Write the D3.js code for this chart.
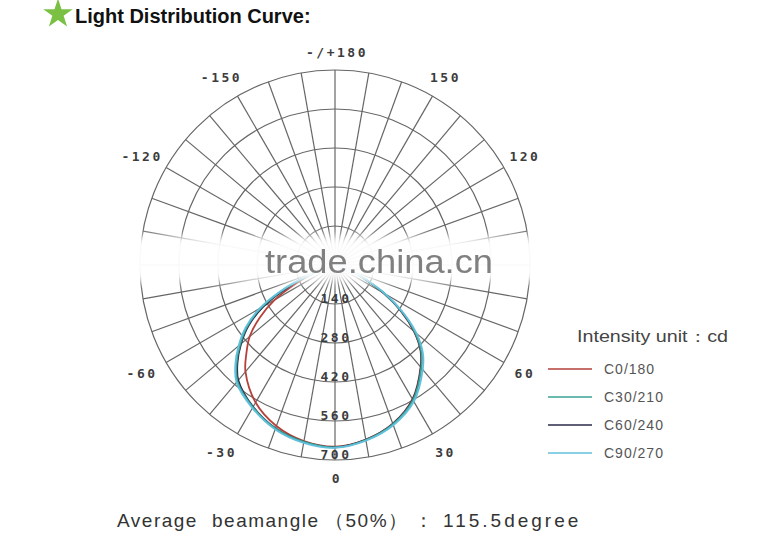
<!DOCTYPE html>
<meta charset="utf-8">
<html>
<head>
  <title>Light Distribution Curve</title>
  <script src="https://cdn.jsdelivr.net/npm/d3@7"></script>
  <style>
    body { margin: 0; background: #fff; }
    svg { display: block; }
    .grid { fill: none; stroke: #666; stroke-width: 1.2px; }
    .curve { fill: none; stroke-width: 1.8px; }
    .lab { font-family: "DejaVu Sans Mono", monospace; font-size: 13px; font-weight: bold;
           fill: #3c3c3c; letter-spacing: 2.5px; text-anchor: middle; }
  </style>
</head>
<body>
<svg id="svg" width="758" height="545"></svg>
<script>
  // gamma angle in degrees: 0 = straight down, negative = left half
  var gammas = [-90, -80, -70, -65, -60, -55, -50, -45, -40, -30, -20, -10, 0, 10, 20, 30, 40, 45, 50, 55, 60, 65, 70, 80, 90];
  // intensities (cd) per C-plane
  var c0   = [8, 25, 70, 150, 250, 330, 400, 450, 500, 570, 615, 642, 652, 636, 606, 556, 478, 434, 370, 290, 200, 115, 60, 20, 6];
  var c30  = [8, 28, 85, 190, 305, 385, 445, 500, 545, 590, 625, 645, 655, 638, 608, 560, 482, 438, 374, 294, 204, 118, 62, 20, 6];
  var c60  = [8, 27, 80, 180, 295, 378, 440, 495, 540, 588, 624, 645, 654, 637, 607, 558, 480, 436, 372, 292, 202, 116, 61, 20, 6];
  var c90  = [8, 30, 90, 200, 312, 392, 452, 506, 550, 593, 628, 648, 656, 640, 612, 566, 490, 446, 382, 300, 210, 122, 64, 20, 6];
  var seriesNames = ["C0/180", "C30/210", "C60/240", "C90/270"];
  var seriesColors = ["#b5413a", "#3aa395", "#2a2a4a", "#62c0dc"];
  var rings = [140, 280, 420, 560, 700];
  var angleTicks = [180, 150, 120, 60, 30, 0, -30, -60, -120, -150];
  var angleText = {"180": "-/+180"};

  var svg = d3.select("#svg");
  var cx = 335, cy = 265;

  var r = d3.scaleLinear().domain([0, 700]).range([0, 195]);
  // gamma -> lineRadial angle (0 = up, clockwise)
  function ang(g) { return Math.PI - g * Math.PI / 180; }
  function px(g, rad) { return [cx + rad * Math.sin(ang(g)), cy - rad * Math.cos(ang(g))]; }

  // title with star
  svg.append("path")
    .attr("d", d3.symbol(d3.symbolStar, 270)())
    .attr("transform", "translate(58,14)")
    .attr("fill", "#7ac143");
  svg.append("text")
    .attr("x", 75).attr("y", 23)
    .style("font-family", "'Liberation Sans', Arial, sans-serif")
    .style("font-weight", "bold").style("font-size", "20px")
    .attr("fill", "#111")
    .text("Light Distribution Curve:");

  var plot = svg.append("g");

  // rings
  plot.selectAll("circle.grid")
    .data(rings)
    .enter().append("circle")
    .attr("class", "grid")
    .attr("cx", cx).attr("cy", cy)
    .attr("r", function (d) { return r(d); });

  // spokes every 10 degrees
  plot.selectAll("line.grid")
    .data(d3.range(0, 360, 10))
    .enter().append("line")
    .attr("class", "grid")
    .attr("x1", function (d) { return px(d, 6)[0]; })
    .attr("y1", function (d) { return px(d, 6)[1]; })
    .attr("x2", function (d) { return px(d, r(700))[0]; })
    .attr("y2", function (d) { return px(d, r(700))[1]; });

  // curves
  var line = d3.lineRadial()
    .angle(function (d) { return ang(d[0]); })
    .radius(function (d) { return r(d[1]); })
    .curve(d3.curveCatmullRom);

  var allSeries = [c0, c60, c30, c90];
  var order = [0, 2, 1, 3];
  plot.selectAll("path.curve")
    .data(allSeries)
    .enter().append("path")
    .attr("class", "curve")
    .attr("transform", "translate(" + cx + "," + cy + ")")
    .attr("stroke", function (d, i) { return seriesColors[order[i]]; })
    .attr("d", function (d) { return line(gammas.map(function (g, k) { return [g, d[k]]; })); });

  // watermark band
  var defs = svg.append("defs");
  defs.append("filter").attr("id", "blur").attr("x", "-10%").attr("y", "-60%").attr("width", "120%").attr("height", "220%")
    .append("feGaussianBlur").attr("stdDeviation", 5);
  defs.append("filter").attr("id", "soft")
    .append("feGaussianBlur").attr("stdDeviation", 0.6);
  svg.append("rect")
    .attr("x", 105).attr("y", 236).attr("width", 462).attr("height", 46)
    .attr("fill", "#fff").attr("opacity", 0.96)
    .attr("filter", "url(#blur)");
  svg.append("text")
    .attr("x", 265).attr("y", 273)
    .attr("textLength", 228).attr("lengthAdjust", "spacingAndGlyphs")
    .style("font-family", "'Liberation Sans', Arial, sans-serif")
    .style("font-size", "34px")
    .attr("fill", "#808080")
    .attr("filter", "url(#soft)")
    .text("trade.china.cn");

  // angle labels
  svg.selectAll("text.anglab")
    .data(angleTicks)
    .enter().append("text")
    .attr("class", "lab anglab")
    .attr("x", function (d) { return px(d, 217)[0] + (d < 0 ? -5 : 2); })
    .attr("y", function (d) { return px(d, (d === 0 || d === 180) ? 213 : 217)[1]; })
    .attr("dy", "0.35em")
    .text(function (d) { return angleText[d] || d; });

  // intensity labels along 0 axis
  svg.selectAll("text.intlab")
    .data(rings)
    .enter().append("text")
    .attr("class", "lab intlab")
    .attr("x", cx + 1)
    .attr("y", function (d) { return cy + r(d) - 6; })
    .attr("dy", "0.35em")
    .text(function (d) { return d; });

  // legend
  var leg = svg.append("g")
    .style("font-family", "'Liberation Sans', Arial, sans-serif");
  leg.append("text")
    .attr("x", 577).attr("y", 342)
    .attr("textLength", 151).attr("lengthAdjust", "spacingAndGlyphs")
    .style("font-size", "16px").attr("fill", "#444")
    .text("Intensity unit：cd");
  var items = leg.selectAll("g.item")
    .data(seriesNames)
    .enter().append("g")
    .attr("transform", function (d, i) { return "translate(0," + (369 + i * 28) + ")"; });
  items.append("line")
    .attr("x1", 548).attr("x2", 592)
    .attr("stroke", function (d, i) { return seriesColors[i]; })
    .attr("stroke-width", 1.3);
  items.append("text")
    .attr("x", 604).attr("y", 5)
    .style("font-size", "14px").style("letter-spacing", "1px")
    .attr("fill", "#555")
    .text(function (d) { return d; });

  // beam angle note
  var note = svg.append("text")
    .attr("y", 527)
    .style("font-family", "'Liberation Sans', Arial, sans-serif")
    .style("font-size", "19px").style("letter-spacing", "1.5px").attr("fill", "#333");
  note.append("tspan").attr("x", 117).text("Average");
  note.append("tspan").attr("x", 212).text("beamangle");
  note.append("tspan").attr("x", 325).text("（50%）");
  note.append("tspan").attr("x", 414).text("：");
  note.append("tspan").attr("x", 443).style("letter-spacing", "3px").text("115.5degree");
</script>
</body>
</html>
